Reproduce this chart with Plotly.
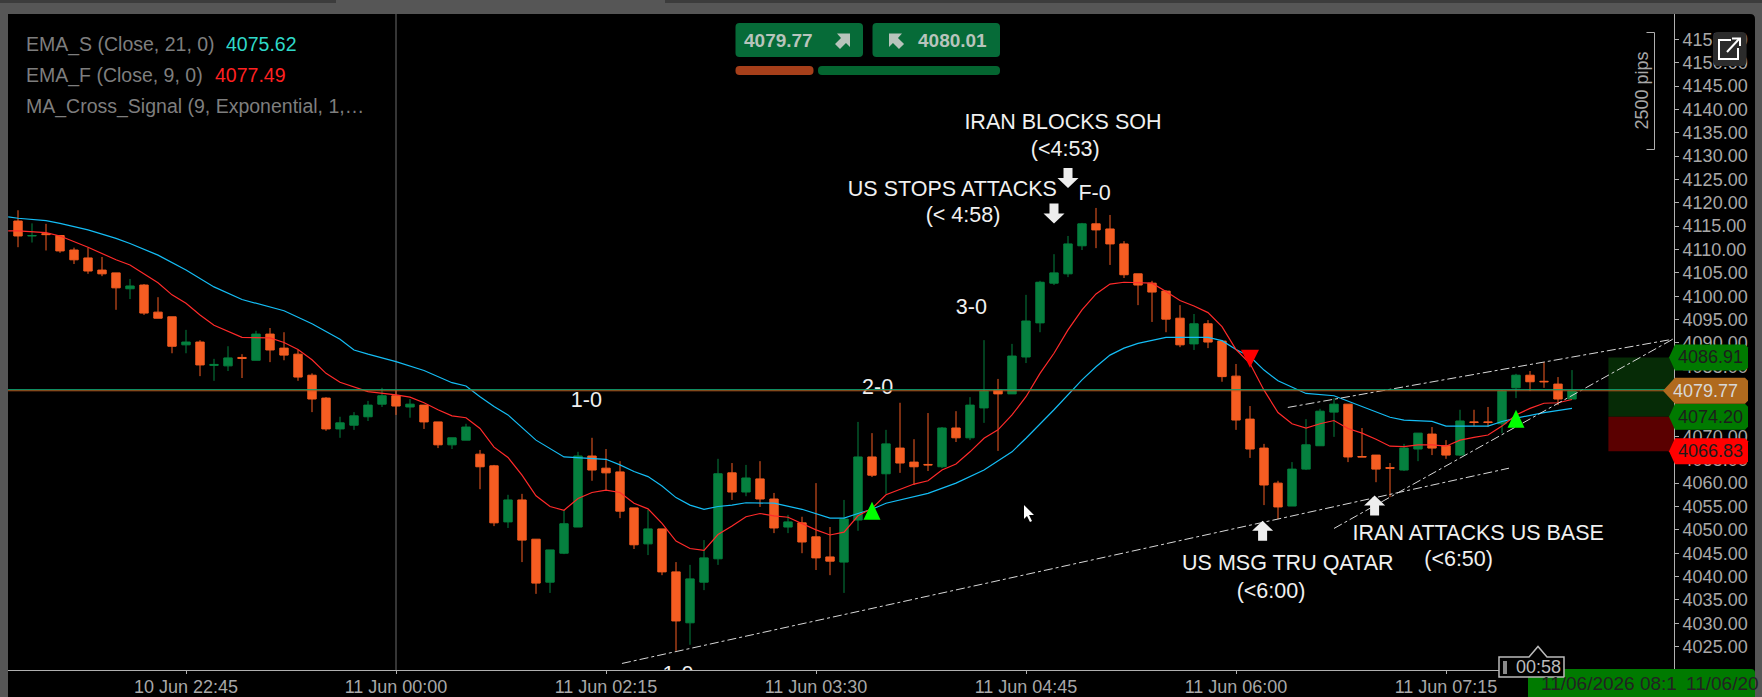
import plotly.graph_objects as go

# M5 candles
opens = [4116.1,4112.9,4113.4,4113.0,4109.9,4108.2,4105.6,4105.0,4101.6,4102.4,
         4096.6,4095.6,4089.6,4090.2,4085.2,4085.1,4086.9,4086.3,4091.9,4088.9,
         4087.6,4083.1,4078.2,4071.6,4072.4,4074.2,4076.9,4078.7,4076.3,4076.7,
         4073.1,4068.2,4069.2,4066.2,4063.7,4051.7,4056.4,4048.0,4038.8,4045.0,
         4050.6,4065.8,4063.2,4062.4,4054.7,4047.0,4050.2,4041.0,4030.1,4038.8,
         4043.8,4062.2,4058.1,4060.9,4056.6,4050.6,4051.5,4048.5,4044.2,4043.1,
         4052.1,4065.6,4062.0,4067.5,4064.5,4064.0,4063.5,4071.8,4069.7,4076.1,
         4079.9,4079.1,4087.0,4094.3,4102.8,4104.8,4110.8,4115.5,4114.4,4111.2,
         4104.8,4102.8,4101.1,4095.3,4089.8,4094.1,4090.4,4082.9,4073.7,4067.5,
         4060.0,4055.1,4063.0,4068.0,4075.2,4076.9,4065.7,4066.0,4063.3,4062.8,
         4067.3,4070.5,4068.0,4066.0,4073.1,4073.1,4072.7,4080.4,4083.1,4081.8,4081.2,4078.0]
highs = [4118.4,4115.6,4115.5,4113.1,4110.4,4110.4,4108.4,4105.0,4103.7,4102.6,
         4099.8,4095.6,4092.8,4090.6,4086.6,4089.3,4087.6,4092.6,4093.2,4092.3,
         4088.5,4083.5,4078.4,4074.2,4075.2,4077.6,4080.4,4079.9,4078.0,4076.7,
         4073.1,4069.7,4072.7,4067.1,4063.9,4057.5,4057.7,4048.0,4045.7,4054.3,
         4066.7,4069.7,4067.3,4064.7,4054.7,4054.3,4050.2,4043.1,4042.5,4047.8,
         4065.2,4064.3,4063.9,4064.7,4057.9,4053.2,4052.8,4060.0,4050.6,4056.4,
         4073.1,4070.7,4071.4,4077.2,4069.4,4075.0,4072.0,4075.4,4078.4,4090.6,
         4082.3,4089.8,4100.3,4103.3,4109.0,4112.9,4115.7,4118.9,4117.4,4111.8,
         4104.8,4103.3,4101.3,4098.1,4096.2,4094.9,4090.6,4085.5,4076.5,4068.4,
         4060.5,4064.5,4073.7,4075.9,4078.2,4076.9,4071.8,4066.0,4064.3,4068.4,
         4070.7,4072.0,4069.2,4075.7,4075.7,4076.3,4079.9,4083.4,4084.0,4085.9,4082.7,4084.2]
lows = [4110.5,4111.5,4109.8,4109.3,4106.9,4104.8,4104.3,4097.1,4099.4,4096.0,
        4095.3,4087.8,4087.8,4082.9,4081.9,4084.0,4082.5,4086.3,4085.9,4086.3,
        4081.9,4075.2,4071.2,4069.7,4071.4,4073.3,4076.3,4074.6,4074.0,4071.6,
        4067.5,4067.3,4069.2,4058.7,4050.8,4050.4,4043.1,4036.3,4036.5,4044.8,
        4050.6,4060.5,4058.5,4052.5,4045.9,4044.6,4040.3,4024.1,4025.4,4037.1,
        4042.5,4056.4,4057.2,4054.9,4049.3,4049.3,4045.0,4041.4,4040.3,4036.5,
        4049.8,4061.3,4057.7,4062.2,4059.6,4062.6,4063.2,4068.8,4069.2,4072.9,
        4066.9,4079.1,4085.7,4092.3,4102.4,4104.1,4109.9,4110.3,4106.7,4103.9,
        4098.1,4094.5,4092.3,4089.1,4088.5,4088.9,4081.7,4071.4,4065.4,4055.3,
        4052.3,4055.1,4062.8,4068.0,4069.9,4064.5,4065.6,4060.2,4057.0,4062.6,
        4064.7,4066.0,4065.2,4065.8,4072.2,4072.0,4070.7,4078.2,4079.7,4080.4,4076.7,4078.0]
closes = [4112.9,4113.0,4113.2,4109.7,4107.8,4105.4,4104.8,4101.8,4102.2,4096.4,
          4095.3,4089.3,4090.2,4085.3,4085.4,4086.8,4086.7,4091.9,4088.5,4087.4,
          4082.7,4078.0,4071.6,4072.9,4074.4,4076.7,4078.7,4076.5,4076.9,4073.1,
          4068.2,4069.7,4072.0,4063.5,4051.5,4056.4,4047.8,4038.6,4045.7,4051.3,
          4065.8,4062.8,4062.2,4054.0,4046.8,4050.2,4041.0,4030.5,4039.5,4044.0,
          4062.0,4058.1,4061.1,4056.6,4050.4,4051.7,4047.4,4044.0,4043.3,4052.3,
          4065.6,4061.7,4068.4,4064.3,4063.5,4063.9,4071.8,4069.7,4076.7,4079.7,
          4079.1,4087.2,4094.7,4103.0,4105.0,4111.2,4115.5,4114.2,4111.2,4104.6,
          4102.4,4100.9,4095.1,4089.6,4094.1,4090.2,4082.8,4073.5,4067.3,4059.6,
          4054.9,4063.0,4068.2,4075.4,4076.9,4065.6,4065.6,4063.0,4063.2,4067.5,
          4070.7,4067.5,4066.0,4073.3,4073.0,4073.0,4079.7,4083.1,4081.7,4081.7,4078.0,4079.7]
candle_idx = list(range(len(opens)))

# EMA 21
ema_s_idx = [-0.7,0,2,3,5,7,8,10,12,14,16,19,21,23,24,25,27,29,31,32,33,34,35,37,39,41,42,43,44,45,46,47,48,49,
             50,51,52,54,56,58,59,60,61,62,64,65,67,69,71,72,74,76,77,78,79,80,82,83,85,86,87,88,89,90,92,94,96,
             98,99,101,102,105,106,107,109,111]
ema_s = [4117.0,4116.7,4116.2,4115.6,4114.2,4112.4,4111.3,4108.8,4105.6,4102.0,4099.3,4096.9,4094.1,4090.8,4088.5,4087.6,
         4086.0,4084.1,4081.5,4080.8,4078.5,4076.4,4074.6,4069.2,4065.6,4065.3,4065.1,4063.9,4062.5,4061.4,4059.4,4056.9,
         4055.3,4054.4,4055.0,4055.3,4055.8,4055.7,4054.4,4052.5,4052.5,4053.5,4054.4,4055.7,4057.2,4057.8,4060.0,4062.8,
         4066.7,4069.6,4075.7,4082.1,4084.9,4087.4,4088.9,4089.9,4091.2,4091.2,4091.2,4090.5,4088.6,4087.1,4084.2,4081.9,
         4079.2,4078.7,4076.4,4074.1,4073.5,4073.2,4072.2,4072.2,4073.2,4073.9,4075.1,4076.0]

# EMA 9
ema_f_idx = [-0.7,0,2,3,5,7,8,10,11,12,13,14,16,18,19,20,21,22,23,25,27,28,29,30,31,32,33,34,35,36,37,38,39,40,41,42,43,
             44,45,46,47,48,49,50,51,52,53,54,55,56,57,58,59,60,61,62,63,64,65,66,67,68,69,70,71,72,73,74,75,76,77,78,
             79,80,81,82,83,84,85,86,87,88,89,90,91,92,93,94,95,96,97,98,99,100,101,102,103,104,105,106,107,108,109,110,111]
ema_f = [4114.0,4114.0,4113.6,4112.9,4110.5,4107.8,4106.7,4102.9,4100.3,4098.5,4096.0,4093.8,4091.2,4091.1,4090.1,4088.6,
         4086.4,4083.5,4081.6,4079.6,4078.9,4078.4,4077.2,4075.7,4074.4,4074.0,4071.7,4067.7,4065.5,4061.7,4057.3,4055.0,
         4054.2,4056.7,4058.0,4058.5,4058.0,4055.7,4054.5,4051.4,4047.6,4046.0,4045.6,4049.0,4050.8,4052.8,4053.5,4053.0,
         4052.7,4051.4,4050.0,4048.9,4049.5,4053.0,4054.6,4057.5,4058.7,4059.8,4060.5,4062.8,4064.1,4066.7,4069.6,4071.4,
         4074.6,4078.5,4083.5,4087.8,4092.8,4097.1,4100.5,4102.6,4103.0,4102.9,4102.8,4101.0,4099.1,4097.9,4096.5,4093.5,
         4088.6,4085.6,4079.9,4075.1,4072.7,4071.8,4072.7,4073.4,4071.7,4070.7,4069.4,4067.9,4067.8,4068.2,4068.2,4067.9,
         4069.2,4069.8,4070.3,4072.2,4074.6,4076.0,4077.1,4077.2,4077.9]

bid = 4079.77
ask = 4080.01
tp_price = 4086.91
entry_price = 4074.20
sl_price = 4066.83

price_ticks = list(range(4025, 4160, 5))
time_tick_idx = [12, 27, 42, 57, 72, 87, 102]
time_tick_labels = ["10 Jun 22:45", "11 Jun 00:00", "11 Jun 02:15", "11 Jun 03:30",
                    "11 Jun 04:45", "11 Jun 06:00", "11 Jun 07:15"]
separator_idx = 27

# trendlines (start, end)
trend_a_x = [43.14, 106.5]
trend_a_y = [4021.4, 4063.2]
trend_b_x = [90.7, 118.2]
trend_b_y = [4076.2, 4090.8]
trend_c_x = [94.0, 118.2]
trend_c_y = [4050.3, 4090.8]

# cross signals
buy_x = [61, 107]
buy_y = [4054.1, 4073.8]
sell_x = [88]
sell_y = [4086.6]

# white block arrows
down_x = [75, 74]
down_y = [4125.3, 4117.7]
up_x = [88.9, 96.9]
up_y = [4049.8, 4055.2]

note_x = [74.64, 74.8, 66.74, 67.5, 76.9, 68.1, 61.4, 40.6, 47.14, 90.7, 89.5, 104.3, 102.9]
note_y = [4136.85, 4131.25, 4122.55, 4116.95, 4121.65, 4097.25, 4080.15, 4077.55, 4018.7, 4042.45, 4036.65, 4048.95, 4043.35]
note_text = ["IRAN BLOCKS SOH", "(<4:53)", "US STOPS ATTACKS", "(< 4:58)", "F-0", "3-0", "2-0", "1-0", "1-0",
             "US MSG TRU QATAR", "(<6:00)", "IRAN ATTACKS US BASE", "(<6:50)"]

FONT = "Liberation Sans, Arial, sans-serif"
GREEN = "#05803f"
ORANGE = "#f55d22"
AXIS_GRAY = "#b0b0b0"

# plot area in screen pixels
L, T, R, B = 8, 14, 1674, 670


def px(x, y):
    return (x - L) / (R - L), 1 - (y - T) / (B - T)


def price_y(p):
    return 39.3 + (4155 - p) * 4.672


def path_of(points, close=True):
    parts = []
    for k, (x, y) in enumerate(points):
        xp, yp = px(x, y)
        parts.append(("M" if k == 0 else "L") + f"{xp:.5f},{yp:.5f}")
    return " ".join(parts) + (" Z" if close else "")


def round_rect(x0, y0, x1, y1, r):
    def p(x, y):
        xp, yp = px(x, y)
        return f"{xp:.5f},{yp:.5f}"
    return (f"M{p(x0 + r, y0)} L{p(x1 - r, y0)} Q{p(x1, y0)} {p(x1, y0 + r)} L{p(x1, y1 - r)} Q{p(x1, y1)} {p(x1 - r, y1)} "
            f"L{p(x0 + r, y1)} Q{p(x0, y1)} {p(x0, y1 - r)} L{p(x0, y0 + r)} Q{p(x0, y0)} {p(x0 + r, y0)} Z")


def pshape(path, fill="rgba(0,0,0,0)", color=None, width=0, layer="above"):
    return dict(type="path", xref="paper", yref="paper", path=path, fillcolor=fill, layer=layer,
                line=dict(color=color or fill, width=width))


# glyph of fixed pixel size, placed on the chart at (x, y)
def glyph(x, y, path, fill):
    return dict(type="path", xref="x", yref="y", xsizemode="pixel", ysizemode="pixel", xanchor=x, yanchor=y,
                path=path, fillcolor=fill, line=dict(width=0), layer="above")


def label(x, y, text, color="#7e7e7e", size=18, anchor="left", bold=False):
    xp, yp = px(x, y)
    if bold:
        text = "<b>" + text + "</b>"
    return dict(xref="paper", yref="paper", x=xp, y=yp, text=text, showarrow=False, xanchor=anchor, yanchor="middle",
                font=dict(family=FONT, size=size, color=color))


def price_tag(price, fill, tip_x):
    y = price_y(price)
    pts = [(tip_x, y), (1675, y - 13), (1745, y - 13), (1748, y - 10), (1748, y + 10), (1745, y + 13), (1675, y + 13)]
    return pshape(path_of(pts), fill=fill)


TRI_UP = "M-8.5,-9 L8.5,-9 L0,9 Z"
TRI_DOWN = "M-9,9 L9,9 L0,-9 Z"
ARROW_UP = "M0,10 L10.5,0 L4.5,0 L4.5,-10 L-4.5,-10 L-4.5,0 L-10.5,0 Z"
ARROW_DOWN = "M0,-10 L10.5,0 L4.5,0 L4.5,10 L-4.5,10 L-4.5,0 L-10.5,0 Z"

fig = go.Figure()

fig.add_trace(go.Candlestick(x=candle_idx, open=opens, high=highs, low=lows, close=closes,
                             increasing=dict(line=dict(color=GREEN, width=1), fillcolor=GREEN),
                             decreasing=dict(line=dict(color=ORANGE, width=1), fillcolor=ORANGE),
                             whiskerwidth=0, showlegend=False, hoverinfo="skip"))

fig.add_trace(go.Scatter(x=ema_s_idx, y=ema_s, mode="lines", line=dict(color="#14bdf5", width=1.2), showlegend=False))
fig.add_trace(go.Scatter(x=ema_f_idx, y=ema_f, mode="lines", line=dict(color="#ff2a2a", width=1.2), showlegend=False))

for tx, ty in [(trend_a_x, trend_a_y), (trend_b_x, trend_b_y), (trend_c_x, trend_c_y)]:
    fig.add_trace(go.Scatter(x=tx, y=ty, mode="lines", line=dict(color="#d8d8d8", width=1, dash="dashdot"), showlegend=False))

# mode text so the cut off 1-0 at the bottom gets clipped by the plot area
fig.add_trace(go.Scatter(x=note_x, y=note_y, text=note_text, mode="text", textposition="middle center", cliponaxis=True,
                         textfont=dict(family=FONT, size=21.5, color="#f0f0f0"), showlegend=False))

shapes = [
    # window chrome
    pshape(round_rect(L, T, 1755, 720, 5), fill="#000000", layer="below"),
    pshape(path_of([(0, 0), (336, 0), (336, 3), (0, 3)]), fill="#3c3c3c", layer="below"),
    pshape(path_of([(665, 0), (1762, 0), (1762, 3), (665, 3)]), fill="#3c3c3c", layer="below"),
    # period separator
    dict(type="line", xref="x", yref="paper", x0=separator_idx, x1=separator_idx, y0=0, y1=1, layer="below",
         line=dict(color="#6a6a6a", width=1)),
    # trade zones
    dict(type="rect", xref="x", yref="y", x0=113.6, x1=118.3, y0=entry_price, y1=tp_price, layer="below",
         fillcolor="#062b06", line=dict(width=0)),
    dict(type="rect", xref="x", yref="y", x0=113.6, x1=118.3, y0=sl_price, y1=entry_price, layer="below",
         fillcolor="#5a0000", line=dict(width=0)),
    # bid/ask
    dict(type="line", xref="paper", yref="y", x0=0, x1=1, y0=bid, y1=bid, line=dict(color="#c2541a", width=1)),
    dict(type="line", xref="paper", yref="y", x0=0, x1=1, y0=ask, y1=ask, line=dict(color="#12a070", width=1)),
    # price tags on the axis
    price_tag(tp_price, "#007a00", 1669),
    price_tag(entry_price, "#007a00", 1669),
    price_tag(sl_price, "#ff0000", 1669),
    price_tag(bid, "#b06a1e", 1663),
    # trade panel
    pshape(round_rect(735.5, 23, 863, 57, 4), fill="#066b38"),
    pshape(round_rect(872.5, 23, 1000, 57, 4), fill="#066b38"),
    pshape(round_rect(735.5, 66, 813.5, 75, 4), fill="#a63f1a"),
    pshape(round_rect(818, 66, 1000, 75, 4), fill="#046530"),
    # block arrows on the two buttons
    pshape(path_of([(837, 33.5), (850, 33.5), (850, 47), (846, 43), (840, 49), (835, 44), (841, 38)]), fill="#b8c4bc"),
    pshape(path_of([(902, 33.5), (889, 33.5), (889, 47), (893, 43), (899, 49), (904, 44), (898, 38)]), fill="#b8c4bc"),
    # pips bracket
    pshape(path_of([(1646.5, 32.5), (1654.5, 32.5), (1654.5, 149.5), (1646.5, 149.5)], close=False), color=AXIS_GRAY, width=1),
    # expand button
    pshape(round_rect(1713, 32, 1746.6, 66, 5), fill="#2b2b2b"),
    pshape(path_of([(1731, 40), (1719, 40), (1719, 59), (1738, 59), (1738, 48)], close=False), color="#ffffff", width=2),
    pshape(path_of([(1727, 52), (1739, 39)], close=False), color="#ffffff", width=2),
    pshape(path_of([(1732, 38.5), (1740, 38.5), (1740, 46)], close=False), color="#ffffff", width=2),
    # date strip + countdown
    pshape(round_rect(1528, 669, 1755, 700, 4), fill="#007a00"),
    pshape(path_of([(1499, 657), (1529, 657), (1538, 646.5), (1547, 657), (1564, 657), (1564, 677), (1499, 677)]),
           fill="#000000", color="#bbbbbb", width=1.5),
    pshape(path_of([(1503, 661), (1507, 661), (1507, 674), (1503, 674)]), fill="#8a8a8a"),
    # mouse pointer
    pshape(path_of([(1024, 505), (1024, 519), (1027, 516), (1030, 522), (1032, 521), (1029, 515), (1034, 515)]), fill="#ffffff"),
]
shapes += [glyph(x, y, TRI_UP, "#00ff00") for x, y in zip(buy_x, buy_y)]
shapes += [glyph(x, y, TRI_DOWN, "#ff0000") for x, y in zip(sell_x, sell_y)]
shapes += [glyph(x, y, ARROW_DOWN, "#eeeeee") for x, y in zip(down_x, down_y)]
shapes += [glyph(x, y, ARROW_UP, "#eeeeee") for x, y in zip(up_x, up_y)]

annotations = [
    label(24, 44, "EMA_S (Close, 21, 0)", size=19.5),
    label(224, 44, "4075.62", color="#2fd9c9", size=19.5),
    label(24, 75, "EMA_F (Close, 9, 0)", size=19.5),
    label(213, 75, "4077.49", color="#ff2020", size=19.5),
    label(24, 106, "MA_Cross_Signal (9, Exponential, 1,…", size=19.5),
    label(778.5, 40, "4079.77", color="#b8c4bc", size=19, anchor="center", bold=True),
    label(952.6, 40, "4080.01", color="#b8c4bc", size=19, anchor="center", bold=True),
    label(1710, price_y(tp_price), "4086.91", color="#1c1c1c", anchor="center"),
    label(1705, price_y(bid), "4079.77", color="#d8d8d8", anchor="center"),
    label(1710, price_y(entry_price), "4074.20", color="#1c1c1c", anchor="center"),
    label(1710, price_y(sl_price), "4066.83", color="#1c1c1c", anchor="center"),
    label(1539, 683, "11/06/2026 08:1", color="#222222", size=19),
    label(1684, 683, "11/06/20", color="#222222", size=19),
    label(1538, 667, "00:58", color="#bbbbbb", anchor="center"),
]
pips = label(1642, 90.5, "2500 pips", color="#a8a8a8", anchor="center")
pips["textangle"] = -90
annotations.append(pips)

fig.update_layout(
    width=1762, height=697,
    margin=dict(l=L, r=1762 - R, t=T, b=697 - B, autoexpand=False),
    paper_bgcolor="#565656", plot_bgcolor="#000000",
    shapes=shapes, annotations=annotations,
    boxgap=0.4, boxgroupgap=0,
    xaxis=dict(range=[-0.714, 118.286], rangeslider=dict(visible=False), showgrid=False, zeroline=False,
               automargin=False, ticklabelstandoff=-3,
               tickmode="array", tickvals=time_tick_idx, ticktext=time_tick_labels, ticks="outside", ticklen=3,
               tickcolor=AXIS_GRAY, showline=True, linecolor=AXIS_GRAY, linewidth=1,
               tickfont=dict(family=FONT, size=18, color="#a8a8a8")),
    yaxis=dict(range=[4020.0, 4160.415], side="right", showgrid=False, zeroline=False, automargin=False,
               tickmode="array", tickvals=price_ticks, ticktext=[f"{p}.00" for p in price_ticks],
               ticks="outside", ticklen=4, tickcolor=AXIS_GRAY, showline=True, linecolor=AXIS_GRAY, linewidth=1,
               tickfont=dict(family=FONT, size=18, color="#a8a8a8")),
)

fig.write_html("out.html", config=dict(displayModeBar=False),
               post_script="document.body.style.margin='0';document.body.style.overflow='hidden';")
